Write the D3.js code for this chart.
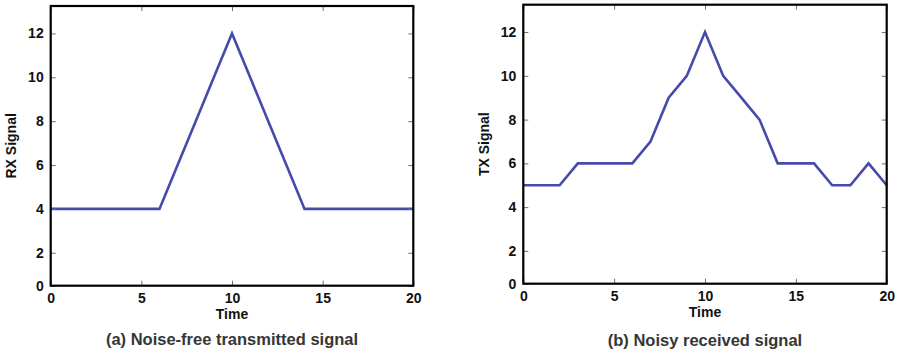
<!DOCTYPE html>
<html>
<head>
<meta charset="utf-8">
<script src="https://cdn.jsdelivr.net/npm/d3@7"></script>
<style>
  html, body { margin: 0; padding: 0; background: #fff; }
  svg { display: block; }
  text { font-family: "Liberation Sans", Arial, Helvetica, sans-serif; font-weight: bold; }
</style>
</head>
<body>
<svg id="chart" width="898" height="354"></svg>
<script>
// ---- data ----
const time = d3.range(0, 21);
const rxSignal = [4, 4, 4, 4, 4, 4, 4, 6, 8, 10, 12, 10, 8, 6, 4, 4, 4, 4, 4, 4, 4];
const txSignal = [5, 5, 5, 6, 6, 6, 6, 7, 9, 10, 12, 10, 9, 8, 6, 6, 6, 5, 5, 6, 5];
const xTicks = [0, 5, 10, 15, 20];
const yTicks = [0, 2, 4, 6, 8, 10, 12];
const yTickLabels = ["0", "2", "4", "6", "8", "10", "12"];
const xDomain = [0, 20];
const yDomain = [0.5, 13.25];   // axis baseline sits a little above zero in the source
const panels = [
  { values: rxSignal, yTitle: "RX Signal", xTitle: "Time", caption: "(a) Noise-free transmitted signal",
    left: 50.7, right: 413.3, top: 6, bottom: 285.7, yTitleX: 11, xTitleY: 319, captionY: 344.5 },
  { values: txSignal, yTitle: "TX Signal", xTitle: "Time", caption: "(b) Noisy received signal",
    left: 523.3, right: 886.7, top: 4.7, bottom: 283.7, yTitleX: 484, xTitleY: 317, captionY: 345.5 }
];

const svg = d3.select("#chart");
const lineColor = "#464ba9";

panels.forEach(p => {
  const x = d3.scaleLinear().domain(xDomain).range([p.left, p.right]);
  const y = d3.scaleLinear().domain(yDomain).range([p.bottom, p.top]);
  // the lowest tick label "0" is drawn at the bottom edge
  const yPos = v => v === 0 ? yDomain[0] : v;
  const yTickVals = yTicks.map(yPos);
  const yFmt = (d, i) => yTickLabels[i];

  const g = svg.append("g");

  // line
  const line = d3.line().x((d, i) => x(time[i])).y(d => y(d));
  g.append("path")
    .datum(p.values)
    .attr("d", line)
    .attr("fill", "none")
    .attr("stroke", lineColor)
    .attr("stroke-width", 2.6)
    .attr("stroke-linejoin", "miter");

  const styleAxis = sel => {
    sel.select(".domain").remove();
    sel.selectAll(".tick line").attr("stroke", "#707070").attr("stroke-width", 1);
    sel.selectAll(".tick text").attr("fill", "#111").style("font-size", "14px")
      .style("font-family", "'Liberation Sans', Arial, sans-serif").style("font-weight", "bold");
  };

  // bottom axis
  g.append("g").attr("transform", `translate(0,${p.bottom})`)
    .call(d3.axisBottom(x).tickValues(xTicks).tickSizeInner(-5).tickSizeOuter(0).tickPadding(7.7).tickFormat(d3.format("d")))
    .call(styleAxis);
  // top axis (mirror ticks)
  g.append("g").attr("transform", `translate(0,${p.top})`)
    .call(d3.axisTop(x).tickValues(xTicks).tickSizeInner(-5).tickSizeOuter(0).tickFormat(""))
    .call(styleAxis);
  // left axis
  g.append("g").attr("transform", `translate(${p.left},0)`)
    .call(d3.axisLeft(y).tickValues(yTickVals).tickSizeInner(-5).tickSizeOuter(0).tickPadding(7).tickFormat(yFmt))
    .call(styleAxis);
  // right axis (mirror ticks)
  g.append("g").attr("transform", `translate(${p.right},0)`)
    .call(d3.axisRight(y).tickValues(yTickVals).tickSizeInner(-5).tickSizeOuter(0).tickFormat(""))
    .call(styleAxis);

  // frame
  g.append("rect")
    .attr("x", p.left).attr("y", p.top)
    .attr("width", p.right - p.left).attr("height", p.bottom - p.top)
    .attr("fill", "none").attr("stroke", "#000").attr("stroke-width", 2.2);

  // axis titles
  g.append("text")
    .attr("transform", `translate(${p.yTitleX},${(p.top + p.bottom) / 2}) rotate(-90)`)
    .attr("text-anchor", "middle").attr("dy", "0.35em")
    .style("font-size", "14px").attr("fill", "#111")
    .text(p.yTitle);
  g.append("text")
    .attr("x", (p.left + p.right) / 2).attr("y", p.xTitleY)
    .attr("text-anchor", "middle")
    .style("font-size", "14px").attr("fill", "#111")
    .text(p.xTitle);

  // caption
  g.append("text")
    .attr("x", (p.left + p.right) / 2).attr("y", p.captionY)
    .attr("text-anchor", "middle")
    .style("font-size", "16.5px").attr("fill", "#363636")
    .text(p.caption);
});
</script>
</body>
</html>
